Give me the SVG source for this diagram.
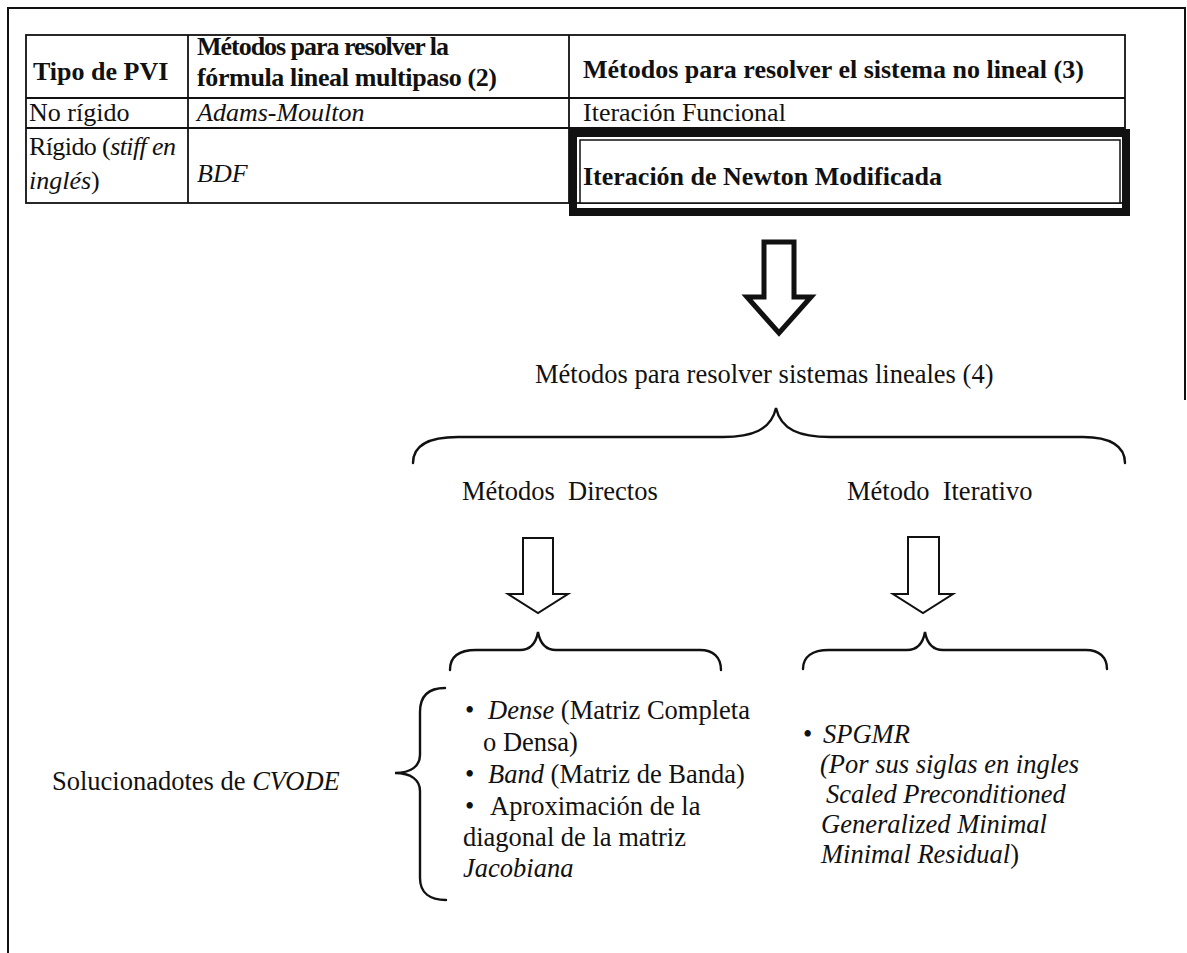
<svg xmlns="http://www.w3.org/2000/svg" width="1187" height="953" viewBox="0 0 1187 953">
  <style>
    text { font-family: "Liberation Serif", "Times New Roman", serif; fill: #111; }
    .t { font-size: 26px; }
    .b { font-weight: bold; }
    .i { font-style: italic; }
    .m { font-size: 26.5px; white-space: pre; }
    .grid { stroke: #111; stroke-width: 1.8; fill: none; }
    .frame { stroke: #111; stroke-width: 2; fill: none; }
    .brace { stroke: #111; stroke-width: 2.4; fill: none; stroke-linecap: round; }
    .arrow { fill: #fff; stroke: #111; stroke-width: 2; stroke-linejoin: miter; }
    .arrow-big { fill: #fff; stroke: #111; stroke-width: 5; stroke-linejoin: miter; }
  </style>

  <rect width="1187" height="953" fill="#fff"/>

  <!-- page frame -->
  <g id="frame" class="frame">
    <line x1="7" y1="8" x2="1186" y2="8"/>
    <line x1="8" y1="8" x2="8" y2="953"/>
    <line x1="1185" y1="8" x2="1185" y2="400"/>
  </g>

  <!-- method table -->
  <g id="table">
    <g class="grid">
      <rect x="26" y="35" width="1099" height="168"/>
      <line x1="26" y1="98" x2="1125" y2="98"/>
      <line x1="26" y1="128" x2="1125" y2="128"/>
      <line x1="188" y1="35" x2="188" y2="203"/>
      <line x1="569" y1="35" x2="569" y2="203"/>
    </g>
    <text class="t b" x="33" y="80">Tipo de PVI</text>
    <text class="t b" x="197" y="55" textLength="252">Métodos para resolver la</text>
    <text class="t b" x="197" y="86" textLength="300">fórmula lineal multipaso (2)</text>
    <text class="t b" x="583" y="78">Métodos para resolver el sistema no lineal (3)</text>

    <text class="t" x="29" y="121">No rígido</text>
    <text class="t i" x="197" y="121">Adams-Moulton</text>
    <text class="t" x="583" y="121">Iteración Funcional</text>

    <text class="t" x="29" y="155" textLength="147">Rígido (<tspan class="i">stiff en</tspan></text>
    <text class="t" x="29" y="189"><tspan class="i">inglés</tspan>)</text>
    <text class="t i" x="197" y="182">BDF</text>
  </g>

  <!-- highlighted cell -->
  <g id="newton">
    <rect x="573" y="133" width="553" height="79" fill="none" stroke="#111" stroke-width="8"/>
    <rect x="580" y="140" width="540" height="63" fill="#fff" stroke="#111" stroke-width="1.5"/>
    <text class="t b" x="583" y="185">Iteración de Newton Modificada</text>
  </g>

  <g id="linear-methods">
    <text class="m" x="535" y="383">Métodos para resolver sistemas lineales (4)</text>
  </g>
  <g id="direct">
    <text class="m" x="462" y="500">Métodos  Directos</text>
  </g>
  <g id="iterative">
    <text class="m" x="847" y="500">Método  Iterativo</text>
  </g>

  <g id="solvers">
    <text class="m" x="52" y="790">Solucionadotes de <tspan class="i">CVODE</tspan></text>
  </g>

  <g id="direct-list">
    <text class="m" x="465" y="719">•</text>
    <text class="m" x="488" y="719"><tspan class="i">Dense</tspan> (Matriz Completa</text>
    <text class="m" x="483" y="751">o Densa)</text>
    <text class="m" x="465" y="783">•</text>
    <text class="m" x="488" y="783"><tspan class="i">Band</tspan> (Matriz de Banda)</text>
    <text class="m" x="465" y="815">•</text>
    <text class="m" x="490" y="815">Aproximación de la</text>
    <text class="m" x="463" y="846">diagonal de la matriz</text>
    <text class="m i" x="463" y="877">Jacobiana</text>
  </g>

  <g id="iterative-list">
    <text class="m" x="803" y="743">•</text>
    <text class="m i" x="823" y="743">SPGMR</text>
    <text class="m i" x="820" y="773">(Por sus siglas en ingles</text>
    <text class="m i" x="826" y="803">Scaled Preconditioned</text>
    <text class="m i" x="821" y="833">Generalized Minimal</text>
    <text class="m" x="821" y="863"><tspan class="i">Minimal Residual</tspan>)</text>
  </g>

  <!-- arrows and braces -->
  <g id="connectors">
    <polygon class="arrow-big" points="764,242 794,242 794,297 811,297 779,333 747,297 764,297"/>
    <polygon class="arrow" points="523,538 553,538 553,594 568,594 538,613 508,594 523,594"/>
    <polygon class="arrow" points="908,537 939,537 939,594 953,594 923,613 893,594 908,594"/>

    <path class="brace" d="M413,463 C413,446 428,437 458,437 L723,437 C752,437 771,430 776,408 C781,430 800,437 830,437 L1083,437 C1110,437 1125,446 1125,463"/>
    <path class="brace" d="M450,670 C450,657 459,650 476,650 L520,650 C531,650 536,643 538,632 C540,643 545,650 556,650 L700,650 C713,650 721,657 721,670"/>
    <path class="brace" d="M803,669 C803,657 812,650 829,650 L907,650 C918,650 923,643 925,632 C927,643 932,650 943,650 L1086,650 C1099,650 1107,657 1107,669"/>
    <path class="brace" d="M445,688 C429,688 420,696 420,712 L420,755 C420,766 411,773 395,773 C411,773 420,780 420,791 L420,878 C420,893 430,900 446,900"/>
  </g>
</svg>
